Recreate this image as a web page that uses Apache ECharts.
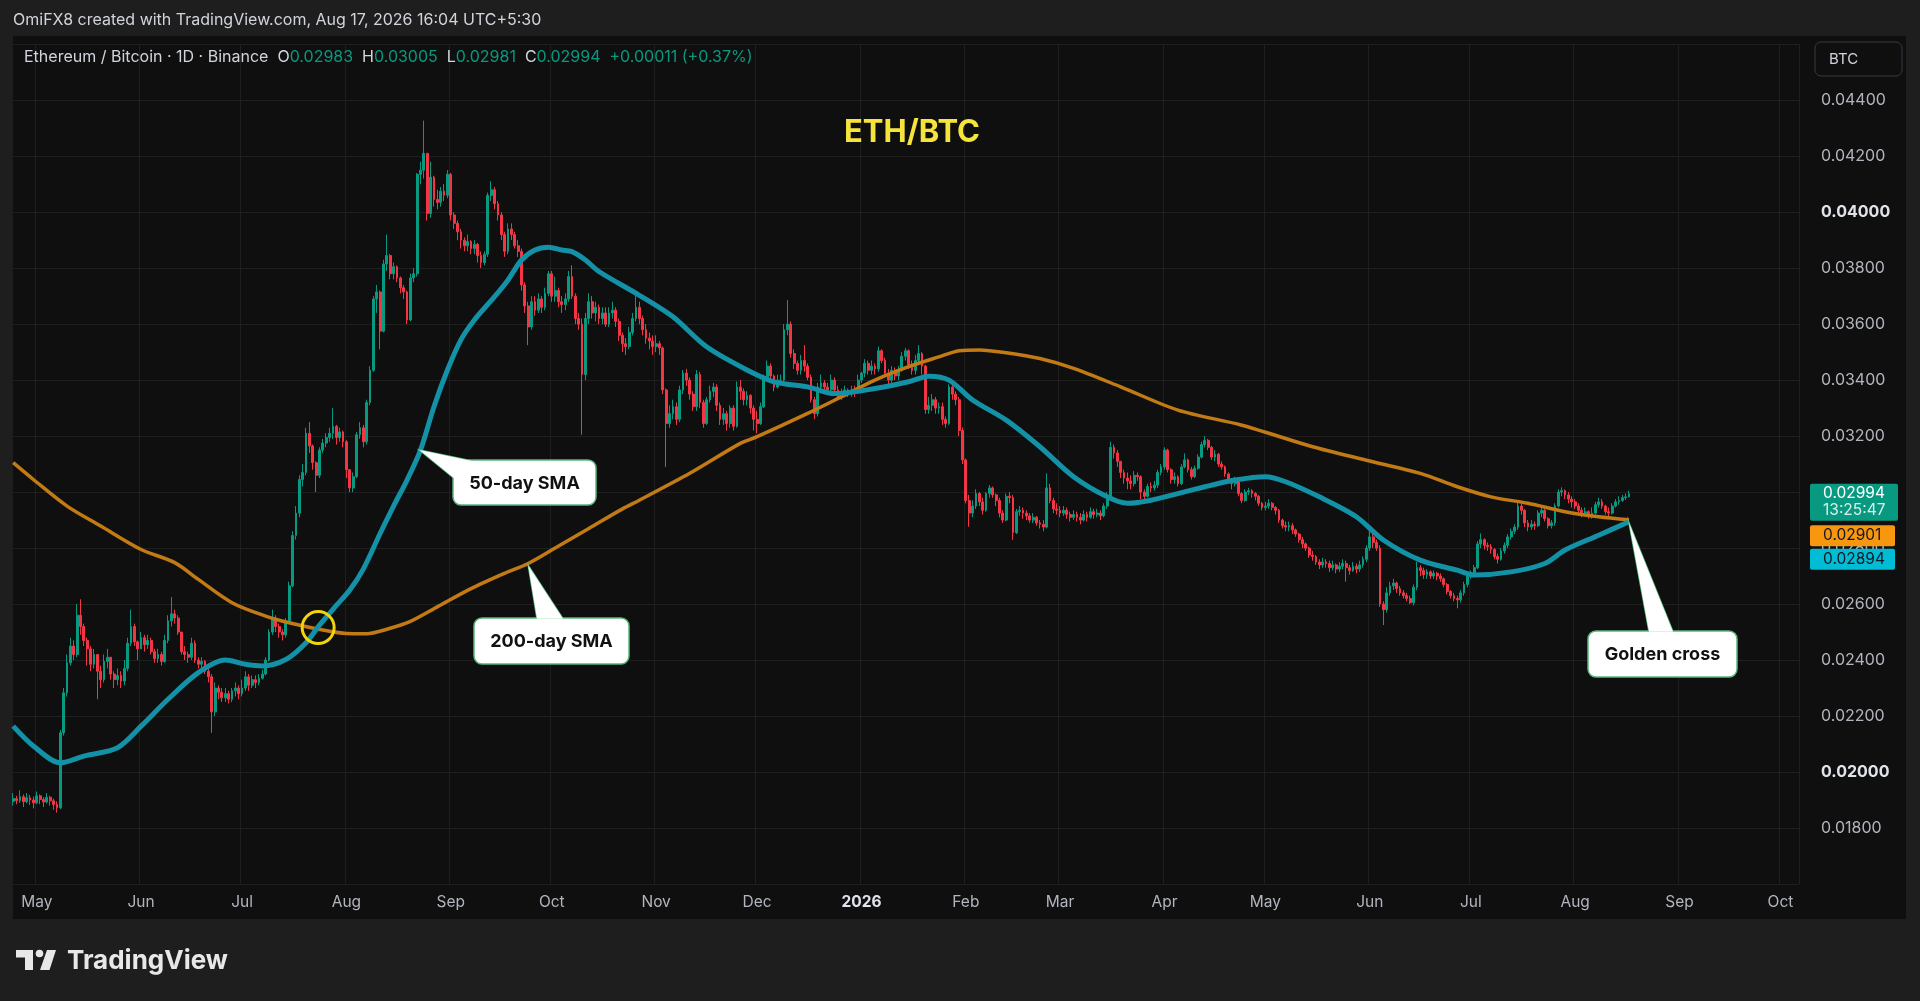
<!DOCTYPE html>
<html><head><meta charset="utf-8">
<script src="https://cdn.jsdelivr.net/npm/echarts@6/dist/echarts.min.js"></script>
<style>
html,body{margin:0;padding:0;background:#1e1e1e;overflow:hidden;}
#panel{position:absolute;left:13px;top:36px;width:1893px;height:883px;background:#0f0f0f;}
#c{position:absolute;left:0;top:0;width:1920px;height:1001px;}
</style></head><body>
<div id="panel"></div><div id="c"></div>
<script>
// ---- daily candles (values in 1e-5 BTC), first day 2025-04-24 ----
const firstOpen = 1895;
const c_2504 = [1905,1898,1912,1894,1908,1900,1890,1915,1902,1893,1910,1897,1884,1872];
const h_2504 = [1925,1915,1935,1920,1925,1918,1912,1930,1920,1910,1925,1915,1905,1895];
const l_2504 = [1880,1885,1890,1875,1888,1882,1870,1885,1885,1875,1888,1880,1865,1855];
const c_2505 = [2140,2283,2390,2450,2420,2560,2520,2470,2440,2385,2420,2360,2330,2395,2410,2350,2330,2345,2325,2370,2460,2520,2465,2440];
const h_2505 = [2150,2300,2420,2480,2470,2600,2617,2530,2480,2450,2440,2420,2380,2420,2440,2410,2360,2370,2360,2400,2480,2580,2530,2470];
const l_2505 = [1868,2130,2270,2380,2400,2410,2490,2450,2380,2360,2370,2260,2300,2320,2370,2330,2300,2310,2300,2310,2360,2450,2450,2400];
const c_2506 = [2480,2455,2470,2430,2405,2420,2395,2470,2540,2565,2550,2500,2430,2420,2410,2460,2400,2385,2395,2360,2340,2215,2300,2285,2265,2280,2260,2290,2300,2280];
const h_2506 = [2500,2490,2490,2480,2440,2440,2430,2490,2560,2625,2580,2560,2500,2450,2430,2480,2470,2410,2410,2400,2370,2350,2320,2310,2300,2300,2290,2300,2320,2310];
const l_2506 = [2440,2430,2440,2420,2390,2390,2380,2390,2460,2520,2530,2490,2420,2400,2390,2400,2390,2370,2370,2350,2320,2140,2200,2260,2250,2250,2245,2250,2270,2260];
const c_2507 = [2300,2340,2310,2330,2320,2335,2350,2400,2500,2545,2520,2500,2490,2540,2665,2845,2925,3045,3070,3210,3165,3105,3060,3150,3175,3195,3210,3235,3195,3215,3180];
const h_2507 = [2330,2360,2350,2345,2345,2350,2365,2410,2510,2580,2560,2530,2510,2550,2680,2860,2950,3060,3100,3230,3250,3170,3110,3160,3190,3210,3230,3300,3240,3230,3220];
const l_2507 = [2270,2290,2290,2300,2300,2310,2330,2345,2395,2490,2500,2480,2470,2480,2535,2660,2830,2910,3020,3060,3140,3080,3000,3050,3140,3160,3180,3190,3170,3180,3160];
const c_2508 = [3080,3015,3055,3205,3230,3180,3320,3435,3690,3715,3575,3815,3845,3780,3805,3765,3730,3715,3615,3765,3780,4135,4150,4210,3995,4125,4045,4035,4075,4060,4135];
const h_2508 = [3185,3080,3070,3215,3250,3240,3330,3450,3700,3740,3720,3830,3920,3850,3820,3810,3770,3740,3720,3780,3800,4140,4180,4327,4210,4180,4130,4080,4090,4100,4150];
const l_2508 = [3050,3000,3000,3050,3190,3160,3170,3310,3430,3640,3510,3570,3790,3760,3760,3750,3710,3690,3600,3610,3750,3770,4100,4120,3970,3980,4020,4010,4020,4040,4050];
const c_2509 = [3990,3960,3930,3900,3880,3895,3870,3885,3845,3820,3850,4060,4080,4030,3990,3920,3860,3940,3920,3880,3860,3740,3665,3590,3680,3650,3690,3660,3710,3780];
const h_2509 = [4140,4000,3970,3940,3910,3920,3900,3900,3890,3860,3860,4070,4110,4090,4040,4000,3930,3960,3960,3930,3900,3870,3750,3680,3700,3700,3710,3700,3730,3790];
const l_2509 = [3970,3940,3900,3870,3860,3860,3850,3850,3820,3800,3810,3840,4040,4010,3970,3900,3840,3850,3900,3870,3840,3720,3640,3525,3580,3630,3640,3640,3650,3700];
const c_2510 = [3700,3720,3680,3670,3690,3770,3700,3620,3600,3420,3620,3680,3640,3660,3620,3640,3600,3640,3650,3610,3560,3530,3520,3570,3620,3660,3620,3580,3550,3540,3520];
const h_2510 = [3790,3770,3730,3700,3710,3790,3810,3710,3640,3620,3640,3710,3700,3680,3670,3660,3660,3660,3680,3660,3620,3570,3550,3590,3640,3700,3680,3630,3600,3570,3560];
const l_2510 = [3680,3680,3660,3640,3650,3680,3690,3600,3580,3205,3400,3600,3620,3610,3600,3600,3590,3590,3620,3590,3540,3500,3490,3510,3560,3610,3600,3560,3530,3510,3490];
const c_2511 = [3530,3515,3365,3245,3280,3305,3260,3365,3425,3400,3350,3305,3420,3320,3245,3330,3360,3375,3310,3260,3280,3245,3300,3235,3375,3360,3330,3345,3300,3260];
const h_2511 = [3560,3540,3520,3370,3310,3330,3320,3380,3436,3440,3410,3360,3436,3430,3330,3340,3380,3390,3385,3320,3300,3290,3310,3310,3395,3400,3370,3360,3350,3310];
const l_2511 = [3500,3490,3350,3090,3230,3260,3240,3250,3350,3380,3330,3290,3290,3300,3230,3240,3320,3340,3290,3240,3240,3220,3230,3220,3230,3330,3310,3310,3280,3220];
const c_2512 = [3245,3305,3410,3450,3415,3375,3400,3400,3580,3600,3495,3460,3435,3470,3450,3410,3330,3280,3375,3390,3375,3365,3400,3365,3340,3350,3365,3350,3365,3360,3400];
const h_2512 = [3290,3320,3420,3470,3460,3420,3420,3420,3600,3686,3610,3510,3470,3490,3525,3460,3420,3340,3390,3420,3400,3390,3420,3410,3380,3370,3380,3370,3380,3380,3420];
const l_2512 = [3210,3240,3300,3400,3400,3360,3370,3380,3390,3560,3480,3440,3420,3420,3430,3400,3320,3260,3270,3360,3350,3350,3350,3350,3330,3330,3340,3340,3340,3340,3350];
const c_2601 = [3425,3460,3435,3450,3440,3505,3470,3425,3400,3435,3415,3435,3485,3505,3455,3435,3470,3495,3450,3295,3310,3330,3300,3305,3260,3245,3375,3350,3330,3220,3115];
const h_2601 = [3430,3475,3470,3470,3460,3520,3510,3480,3440,3450,3445,3450,3500,3515,3510,3470,3490,3525,3500,3455,3340,3350,3340,3320,3320,3270,3385,3390,3360,3340,3230];
const l_2601 = [3390,3410,3420,3420,3420,3430,3460,3410,3380,3390,3400,3400,3430,3470,3440,3420,3420,3460,3420,3280,3280,3290,3280,3280,3240,3230,3240,3330,3310,3200,3100];
const c_2602 = [2970,2925,2950,2995,2965,2935,2995,3015,2990,2970,2925,2900,2985,2980,2855,2930,2935,2925,2915,2900,2910,2890,2885,2875,3015,2970,2940,2935];
const h_2602 = [3120,2990,2970,3010,3000,2980,3000,3025,3020,2995,2980,2935,2995,3000,2990,2940,2950,2945,2935,2925,2925,2915,2900,2900,3067,3030,2980,2960];
const l_2602 = [2960,2876,2910,2940,2950,2920,2930,2980,2980,2950,2910,2890,2895,2960,2829,2850,2915,2905,2900,2890,2890,2880,2870,2860,2870,2960,2925,2920];
const c_2603 = [2925,2935,2920,2910,2920,2910,2900,2920,2910,2930,2920,2925,2915,2950,2985,3160,3140,3110,3070,3050,3040,3030,3060,3055,3000,2985,3020,3015,3025,3070,3090];
const h_2603 = [2950,2950,2945,2930,2935,2930,2925,2935,2930,2945,2940,2940,2935,2960,3000,3180,3170,3150,3110,3080,3070,3060,3075,3070,3060,3010,3030,3035,3040,3080,3100];
const l_2603 = [2910,2915,2905,2895,2900,2895,2885,2895,2895,2905,2905,2910,2900,2910,2940,2980,3120,3090,3050,3030,3010,3010,3020,3040,2975,2970,2980,3000,3005,3015,3060];
const c_2604 = [3150,3080,3045,3055,3030,3090,3115,3080,3055,3085,3125,3170,3185,3160,3125,3135,3100,3090,3065,3045,3030,3040,2995,2970,3000,3005,2995,2985,2960,2945];
const h_2604 = [3160,3155,3085,3070,3060,3100,3138,3120,3090,3095,3135,3180,3200,3190,3165,3150,3140,3110,3095,3070,3050,3055,3045,3000,3010,3015,3010,3000,2990,2965];
const l_2604 = [3080,3070,3030,3030,3020,3025,3085,3070,3045,3050,3080,3120,3160,3150,3115,3110,3090,3080,3055,3035,3010,3020,2985,2960,2965,2990,2980,2970,2950,2935];
const c_2605 = [2950,2960,2945,2935,2900,2880,2875,2880,2865,2850,2830,2815,2800,2775,2770,2750,2740,2750,2745,2730,2740,2725,2735,2745,2730,2720,2735,2725,2740,2760,2800];
const h_2605 = [2965,2975,2965,2950,2940,2905,2895,2895,2890,2870,2855,2840,2820,2805,2790,2775,2760,2765,2760,2755,2755,2745,2750,2760,2755,2740,2750,2745,2755,2770,2810];
const l_2605 = [2935,2940,2935,2920,2890,2870,2860,2860,2850,2840,2820,2800,2790,2765,2755,2740,2725,2730,2730,2715,2720,2710,2715,2725,2680,2705,2715,2710,2715,2730,2750];
const c_2606 = [2840,2820,2800,2600,2580,2640,2665,2675,2655,2640,2630,2620,2605,2660,2730,2720,2705,2715,2700,2710,2700,2690,2670,2645,2630,2620,2615,2640,2670,2700];
const h_2606 = [2864,2850,2830,2810,2610,2660,2680,2690,2680,2665,2650,2640,2630,2670,2751,2740,2730,2725,2720,2720,2715,2710,2695,2675,2650,2640,2630,2650,2680,2710];
const l_2606 = [2790,2800,2790,2590,2525,2570,2630,2650,2640,2630,2620,2610,2600,2595,2650,2700,2690,2690,2690,2690,2685,2680,2660,2635,2620,2610,2585,2605,2630,2660];
const c_2607 = [2710,2730,2815,2830,2810,2805,2795,2770,2760,2790,2810,2840,2860,2875,2950,2935,2890,2875,2885,2880,2925,2935,2905,2880,2890,2950,3000,3005,2990,2975,2965];
const h_2607 = [2720,2740,2825,2852,2835,2820,2815,2800,2780,2800,2820,2850,2870,2885,2971,2960,2940,2900,2900,2895,2935,2945,2940,2910,2900,2960,3010,3017,3010,3000,2985];
const l_2607 = [2690,2700,2725,2800,2795,2790,2780,2760,2745,2755,2780,2800,2830,2850,2865,2920,2875,2860,2865,2865,2875,2910,2895,2870,2870,2880,2945,2985,2975,2960,2945];
const c_2608 = [2950,2935,2925,2930,2915,2925,2955,2965,2950,2930,2925,2950,2965,2970,2980,2983,2994];
const h_2608 = [2975,2960,2945,2945,2935,2945,2965,2980,2975,2955,2945,2960,2975,2985,2990,2995,3005];
const l_2608 = [2940,2925,2910,2915,2905,2905,2920,2945,2940,2920,2910,2920,2945,2955,2965,2972,2981];

// ---- moving averages: day offset from 2025-05-01, value in 1e-5 BTC ----
const sma50Day = [-7,-1,7,14,24,31,39,48,56,62,67,74,80,84,89,93,97,102,106,110,114,118,122,126,130,136,140,144,148,152,156,159,163,167,179,189,199,211,219,229,237,249,259,265,271,278,288,298,308,318,324,331,347,356,365,371,381,392,400,411,422,427,438,448,454,464,473];
const sma50Val = [2164,2093,2033,2057,2087,2164,2260,2355,2400,2385,2379,2402,2462,2525,2595,2650,2725,2852,2950,3043,3150,3305,3436,3544,3615,3698,3758,3829,3865,3875,3865,3859,3829,3788,3703,3626,3519,3436,3394,3376,3352,3370,3394,3414,3400,3329,3257,3162,3055,2983,2960,2971,3019,3043,3055,3037,2983,2912,2829,2757,2721,2704,2715,2745,2793,2846,2894];
const sma200Day = [-7,-1,9,19,31,41,48,58,68,75,83,92,98,104,111,119,129,139,146,154,164,174,179,194,209,214,229,239,249,259,268,274,280,288,298,308,322,339,358,379,395,411,422,432,443,454,464,473];
const sma200Val = [3105,3045,2950,2879,2795,2748,2688,2605,2557,2533,2512,2495,2494,2510,2538,2590,2655,2710,2745,2800,2870,2940,2971,3067,3174,3198,3281,3340,3400,3448,3483,3505,3508,3498,3477,3442,3376,3293,3239,3162,3114,3067,3019,2983,2960,2930,2912,2901];

// ---- axis ----
const priceMin = 0.016, priceMax = 0.046, priceStep = 0.002;
const boldTicks = [0.04, 0.02];
const monthNames = ['Jan','Feb','Mar','Apr','May','Jun','Jul','Aug','Sep','Oct','Nov','Dec'];
const startMs = Date.UTC(2025,3,24);
const dayCount = 531;   // 2025-04-24 .. 2026-10-06
const lastClose = 0.02994, ma200Last = 0.02901, ma50Last = 0.02894;

const pad = n => (n<10?'0':'')+n;
const cats = [];
for (let i=0;i<dayCount;i++){ const d=new Date(startMs+i*86400000); cats.push(d.getUTCFullYear()+'-'+pad(d.getUTCMonth()+1)+'-'+pad(d.getUTCDate())); }

const closes = [].concat(c_2504,c_2505,c_2506,c_2507,c_2508,c_2509,c_2510,c_2511,c_2512,c_2601,c_2602,c_2603,c_2604,c_2605,c_2606,c_2607,c_2608);
const highs  = [].concat(h_2504,h_2505,h_2506,h_2507,h_2508,h_2509,h_2510,h_2511,h_2512,h_2601,h_2602,h_2603,h_2604,h_2605,h_2606,h_2607,h_2608);
const lows   = [].concat(l_2504,l_2505,l_2506,l_2507,l_2508,l_2509,l_2510,l_2511,l_2512,l_2601,l_2602,l_2603,l_2604,l_2605,l_2606,l_2607,l_2608);
const candles = closes.map((c,i)=>{
  const o = i===0 ? firstOpen : closes[i-1];
  const h = Math.max(highs[i],o,c), l = Math.min(lows[i],o,c);
  return [o/1e5, c/1e5, l/1e5, h/1e5];
});
const offset = 7; // index of 2025-05-01
const sma50 = sma50Day.map((d,i)=>[cats[d+offset], sma50Val[i]/1e5]);
const sma200 = sma200Day.map((d,i)=>[cats[d+offset], sma200Val[i]/1e5]);
const isMonthStart = (idx,val)=> typeof val==='string' && val.slice(8)==='01';

const chart = echarts.init(document.getElementById('c'), null, {width:1920,height:1001});
const FONT = 'Inter, Roboto, sans-serif';
chart.setOption({
  backgroundColor:'transparent',
  animation:false,
  title:[
    {text:'OmiFX8 created with TradingView.com, Aug 17, 2026 16:04 UTC+5:30', left:13, top:12, padding:0,
     textStyle:{color:'#d1d4dc', fontSize:16, fontWeight:'normal', fontFamily:FONT}},
    {text:'{a|Ethereum / Bitcoin · 1D · Binance}  {a|O}{v|0.02983}  {a|H}{v|0.03005}  {a|L}{v|0.02981}  {a|C}{v|0.02994}  {v|+0.00011 (+0.37%)}',
     left:24, top:49, padding:0,
     textStyle:{fontSize:16, fontWeight:'normal', fontFamily:FONT, rich:{
       a:{color:'#d1d4dc',fontSize:16,fontWeight:'normal',fontFamily:FONT},
       v:{color:'#089981',fontSize:16,fontWeight:'normal',fontFamily:FONT}}}},
    {text:'ETH/BTC', left:912, top:117, padding:0, textAlign:'center',
     textStyle:{color:'#f5e43c', fontSize:31, fontWeight:'bold', fontFamily:FONT}},
    {text:'TradingView', left:67, top:948, padding:0,
     textStyle:{color:'#e8e8e8', fontSize:26, fontWeight:'bold', fontFamily:FONT}}
  ],
  grid:{left:11.5, right:121, top:44.2, bottom:117, containLabel:false},
  xAxis:{
    type:'category', data:cats, boundaryGap:true,
    axisLine:{show:false}, axisTick:{show:false},
    axisLabel:{interval:isMonthStart, margin:10, color:'#b2b5be', fontSize:15.5, fontFamily:FONT,
      formatter:(v)=>{ const m=+v.slice(5,7); if(m===1) return '{y|'+v.slice(0,4)+'}'; return monthNames[m-1]; },
      rich:{y:{color:'#e0e3eb',fontWeight:'bold',fontSize:15.5,fontFamily:FONT}}},
    splitLine:{show:true, interval:isMonthStart, lineStyle:{color:'#1f1f1f', width:1}}
  },
  yAxis:{
    type:'value', position:'right', min:priceMin, max:priceMax, interval:priceStep, scale:true,
    axisLine:{show:false}, axisTick:{show:false},
    axisLabel:{margin:22, align:'left', color:'#b2b5be', fontSize:16, fontFamily:FONT,
      formatter:(v)=>{ if(v<0.017||v>0.045) return ''; const s=v.toFixed(5); return boldTicks.some(b=>Math.abs(b-v)<1e-9)?'{b|'+s+'}':s; },
      rich:{b:{color:'#e0e3eb',fontWeight:'bold',fontSize:16,fontFamily:FONT}}},
    splitLine:{lineStyle:{color:'#1f1f1f', width:1}}
  },
  series:[
    {type:'candlestick', data:candles, barWidth:'68%',
     itemStyle:{color:'#089981', color0:'#f23645', borderColor:'#089981', borderColor0:'#f23645', borderWidth:1}},
    {type:'line', data:sma200, smooth:0.3, showSymbol:false, z:3,
     lineStyle:{color:'#c27a14', width:3.5}},
    {type:'line', data:sma50, smooth:0.3, showSymbol:false, z:4,
     lineStyle:{color:'#1391a6', width:5}}
  ]
});

// ---- overlays positioned through the chart's own scales ----
const px = (d,v)=> chart.convertToPixel({xAxisIndex:0,yAxisIndex:0},[cats[d+offset], v]);
const G = [];
const BORDER = '#58b77a';
function callout(x,y,w,h,tip,b1,b2,label){
  G.push({type:'polygon', z:20, shape:{points:[tip,b1,b2]}, style:{fill:'#ffffff', stroke:BORDER, lineWidth:1.5}});
  G.push({type:'rect', z:21, shape:{x:x,y:y,width:w,height:h,r:8}, style:{fill:'#ffffff', stroke:BORDER, lineWidth:1.5}});
  G.push({type:'polygon', z:22, shape:{points:[tip,b1,b2]}, style:{fill:'#ffffff'}});
  G.push({type:'text', z:23, style:{text:label, x:x+w/2, y:y+h/2+1, textAlign:'center', textVerticalAlign:'middle', fill:'#111', font:'bold 18px '+FONT}});
}
const t50 = px(114, 0.03150);
callout(453,460,143,45,[t50[0]-1,t50[1]],[471,460.8],[453.8,478],'50-day SMA');
const t200 = px(146, 0.02745);
callout(474,618,155,46,[t200[0],t200[1]+2],[537,618.8],[563,618.8],'200-day SMA');
const tGc = px(473, 0.02897);
callout(1588,631,149,46,[tGc[0],tGc[1]+2],[1649,631.8],[1673,631.8],'Golden cross');
const cx = px(83, 0.02516);
G.push({type:'circle', z:15, shape:{cx:cx[0]+2, cy:cx[1], r:16}, style:{fill:'none', stroke:'#f2d40e', lineWidth:3}});
// BTC currency box
G.push({type:'rect', z:10, shape:{x:1815,y:42,width:87,height:34,r:6}, style:{fill:'#0f0f0f', stroke:'#363a45', lineWidth:1}});
G.push({type:'text', z:11, style:{text:'BTC', x:1829, y:59.5, textVerticalAlign:'middle', fill:'#d1d4dc', font:'15px '+FONT}});
// price scale labels
const yLast = px(473, lastClose)[1];
G.push({type:'rect', z:10, shape:{x:1810,y:yLast-10,width:88,height:37,r:2}, style:{fill:'#089981'}});
G.push({type:'text', z:11, style:{text:lastClose.toFixed(5), x:1823, y:yLast, textVerticalAlign:'middle', fill:'#ffffff', font:'15.5px '+FONT}});
G.push({type:'text', z:11, style:{text:'13:25:47', x:1823, y:yLast+17, textVerticalAlign:'middle', fill:'#d8efe9', font:'15.5px '+FONT}});
G.push({type:'rect', z:10, shape:{x:1810,y:yLast+31.5,width:85,height:21,r:2}, style:{fill:'#f7960f'}});
G.push({type:'text', z:11, style:{text:ma200Last.toFixed(5), x:1823, y:yLast+42, textVerticalAlign:'middle', fill:'#131722', font:'15.5px '+FONT}});
G.push({type:'rect', z:10, shape:{x:1810,y:yLast+55,width:85,height:21,r:2}, style:{fill:'#00bcd4'}});
G.push({type:'text', z:11, style:{text:ma50Last.toFixed(5), x:1823, y:yLast+65.5, textVerticalAlign:'middle', fill:'#131722', font:'15.5px '+FONT}});
// TradingView logo mark
G.push({type:'polygon', z:10, shape:{points:[[16,950],[33,950],[33,970],[25,970],[25,957.5],[16,957.5]]}, style:{fill:'#e8e8e8'}});
G.push({type:'circle', z:10, shape:{cx:39.5, cy:953.5, r:3.8}, style:{fill:'#e8e8e8'}});
G.push({type:'polygon', z:10, shape:{points:[[47,950],[56,950],[49.5,970],[40,970]]}, style:{fill:'#e8e8e8'}});
chart.setOption({graphic:{elements:G}});
</script>
</body></html>
